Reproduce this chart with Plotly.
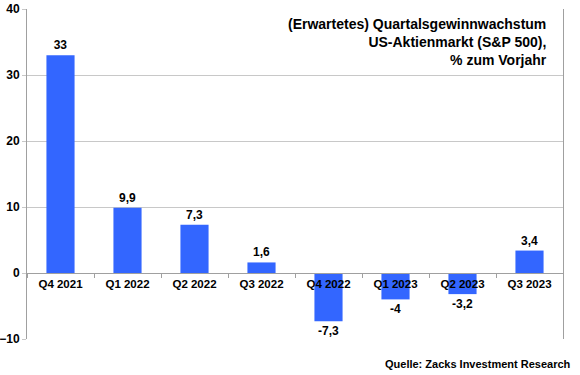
import plotly.graph_objects as go

categories = ["Q4 2021", "Q1 2022", "Q2 2022", "Q3 2022", "Q4 2022", "Q1 2023", "Q2 2023", "Q3 2023"]
values = [33, 9.9, 7.3, 1.6, -7.3, -4, -3.2, 3.4]
labels = [str(v).replace(".", ",") for v in values]
y_ticks = [-10, 0, 10, 20, 30, 40]

FONT = "Liberation Sans, Arial, sans-serif"

fig = go.Figure(go.Bar(
    x=categories, y=values, text=labels, textposition="outside",
    textfont=dict(family=FONT, size=12, color="black", weight="bold"),
    marker=dict(color="#3366FF", line=dict(width=0)),
    width=0.42, cliponaxis=False,
))

fig.update_layout(
    width=580, height=375,
    margin=dict(l=27, r=17, t=9, b=36, autoexpand=False),
    paper_bgcolor="white", plot_bgcolor="white",
    showlegend=False,
    font=dict(family=FONT, color="black"),
    xaxis=dict(
        anchor="free", position=0.2, automargin=False,
        showline=True, linecolor="#a0a0a0", linewidth=1,
        ticks="outside", tickson="boundaries", ticklen=4, tickcolor="#a0a0a0",
        tickfont=dict(family=FONT, size=11.5, color="black", weight="bold"),
        showgrid=False, zeroline=False,
    ),
    yaxis=dict(
        range=[-10, 40], tickvals=y_ticks, automargin=False,
        showgrid=True, gridcolor="#c8c8c8", gridwidth=1,
        showline=True, linecolor="#a0a0a0", linewidth=1, mirror=True,
        zeroline=False, ticks="outside", ticklen=4, tickcolor="#c8c8c8",
        tickfont=dict(family=FONT, size=12, color="black", weight="bold"),
    ),
    annotations=[
        dict(text="(Erwartetes) Quartalsgewinnwachstum<br>US-Aktienmarkt (S&P 500),<br>% zum Vorjahr",
             xref="paper", yref="paper", x=0.973, y=0.985, xanchor="right", yanchor="top",
             align="right", showarrow=False,
             font=dict(family=FONT, size=14, color="black", weight="bold")),
        dict(text="Quelle: Zacks Investment Research",
             xref="paper", yref="paper", x=1.018, y=-0.076, xanchor="right", yanchor="middle",
             showarrow=False, font=dict(family=FONT, size=11, color="black", weight="bold")),
    ],
)

fig.write_html("out.html", config={"displayModeBar": False},
               post_script="document.body.style.margin='0px';")
